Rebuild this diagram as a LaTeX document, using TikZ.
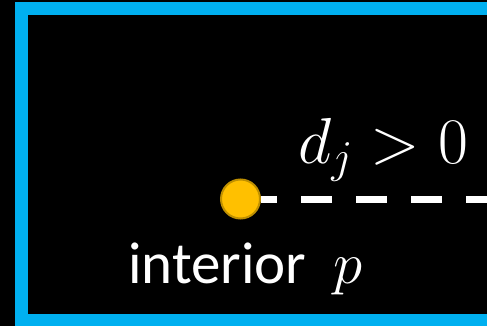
\documentclass[tikz,border=0pt]{standalone}
\usepackage{fix-cm}
\usepackage{fontspec}
\setmainfont{Carlito}
\usetikzlibrary{positioning}
\definecolor{frameblue}{HTML}{00B0F0}
\definecolor{dotfill}{HTML}{FFC000}
\definecolor{dotrim}{HTML}{BF9000}

\begin{document}
\begin{tikzpicture}[x=1pt, y=-1pt,
        frame/.style={draw=frameblue, line width=13pt},
        point/.style={circle, fill=dotfill, draw=dotrim, line width=2pt, minimum size=39pt, inner sep=0pt},
        ray/.style={draw=white, line width=7pt, dash pattern=on 31pt off 24pt, dash phase=15pt},
        lbl/.style={text=white, inner sep=0pt, anchor=base west}
    ]
    \useasboundingbox (0,0) rectangle (487,326);
    \fill[black] (0,0) rectangle (487,326);
    \clip (0,0) rectangle (487,326);
    \draw[frame] (540,9) -- (21.5,9) -- (21.5,320.5) -- (540,320.5);

    \node[point] (p) at (240.5,199) {};
    \coordinate (rim) at (520,199);
    \node[lbl, font=\fontsize{65}{65}\selectfont] (dist) at (298,163) {$d_j > 0$};
    \node[lbl, font=\fontsize{59}{59}\selectfont] (inner) at (128,283) {interior\hspace{27pt}$p$};

    \draw[ray] (p) -- (rim);
\end{tikzpicture}
\end{document}
